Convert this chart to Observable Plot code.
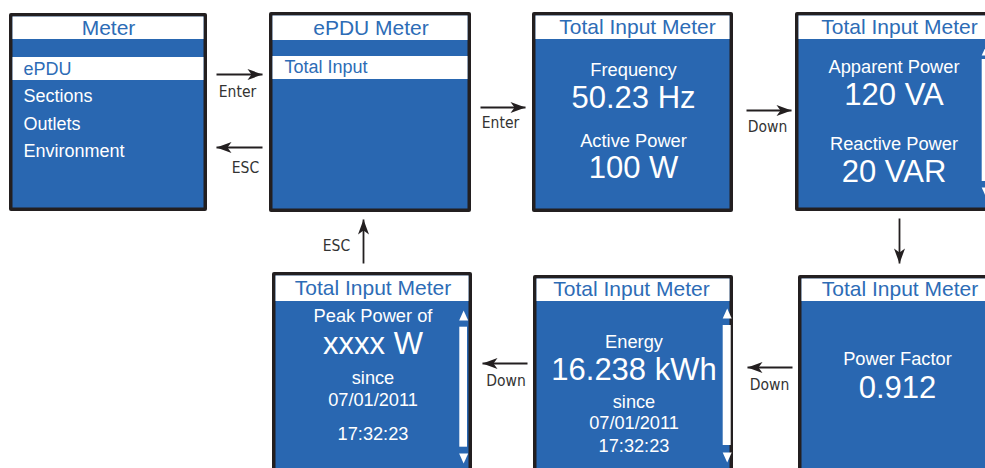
<!DOCTYPE html>
<html><head><meta charset="utf-8">
<script src="https://cdn.jsdelivr.net/npm/d3@7"></script>
<script src="https://cdn.jsdelivr.net/npm/@observablehq/plot@0.6"></script>
<style>
  html,body{margin:0;padding:0;background:#fff;}
  #chart svg{display:block;}
</style>
</head><body><div id="chart"></div>
<script>
// ---------------- content (data) ----------------
const screenTitles = ["Meter", "ePDU Meter", "Total Input Meter", "Total Input Meter", "Total Input Meter", "Total Input Meter", "Total Input Meter"];
const menuItems = ["ePDU", "Sections", "Outlets", "Environment"];
const subMenuItems = ["Total Input"];
const readingLabels = ["Frequency", "Active Power", "Apparent Power", "Reactive Power", "Power Factor", "Energy", "Peak Power of"];
const readingValues = ["50.23 Hz", "100 W", "120 VA", "20 VAR", "0.912", "16.238 kWh", "xxxx W"];
const readingScreen = [2, 2, 3, 3, 4, 5, 6];
const sinceLines = ["since", "07/01/2011", "17:32:23"];
const arrowLabels = ["Enter", "ESC", "Enter", "Down", "", "Down", "Down", "ESC"];

// ---------------- layout (pixels) ----------------
const W = 985, H = 468;
const boxes = [[9, 13, 207, 211], [269, 12, 471, 212], [532, 12, 733, 212], [795, 12, 992, 211],
               [798, 275, 1001, 490], [533, 275, 733, 490], [272, 272, 472, 490]];
const headerBottom = [39, 40, 39, 39, 301, 301, 301];
const titleX = [108, 370.5, 637, 899, 899.5, 631, 372.5];
const titleY = [27.5, 28, 26.5, 26.5, 289, 289, 288];
const border = 3.5;
const menuY = [68.5, 96, 123.5, 151];
const menuHighlight = [57, 80];
const subMenuY = [67];
const subHighlight = [56, 79];
const screenCX = [0, 0, 633, 893.5, 897, 633.5, 372.5];
const labelY = [69.5, 141, 66.5, 143.5, 359, 341.5, 316];
const valueY = [97.5, 168, 95, 171.5, 387.5, 370, 344];
const sinceY = {5: [402, 423, 446], 6: [377.5, 399.5, 433.5]};
// scrollbars: [screen, x1, x2, upY, barY1, barY2, downY]
const scrollbars = [[3, 981.7, 989.7, 50, 59, 181, 192], [5, 722.7, 730.7, 313, 325, 445, 457], [6, 459.3, 467, 315, 326.7, 446.7, 458]];
// arrows: [x1, y1, x2(tip), y2(tip), labelX, labelY]
const arrows = [[216, 74, 262, 74, 237, 92], [262, 147, 216, 147, 245, 168], [480, 107, 525, 107, 500, 123],
                [746, 110, 791, 110, 767, 126.5], [899, 218, 899, 263, 0, 0], [792, 367, 747, 367, 769, 385],
                [527, 363, 482, 363, 505.5, 380.5], [363, 263, 363, 219, 336, 246]];

// ---------------- styles ----------------
const BLUE = "#2967b1", TITLE_BLUE = "#2d6cb6", DARK = "#231f20";
const FONT = "'Liberation Sans', Arial, Helvetica, sans-serif";
const NARROW = "'Liberation Sans Narrow', 'Arial Narrow', 'DejaVu Sans Condensed', sans-serif";

// ---------------- build mark tables ----------------
const outer = boxes.map(([x1, y1, x2, y2]) => ({x1, y1, x2, y2}));
const inner = boxes.map(([x1, y1, x2, y2]) => ({x1: x1 + border, y1: y1 + border, x2: x2 - border, y2: y2 - border}));
const headers = boxes.map(([x1, y1, x2], i) => ({x1: x1 + border, y1: y1 + border, x2: x2 - border, y2: headerBottom[i]}));
const highlights = [
  {x1: boxes[0][0] + border, x2: boxes[0][2] - border, y1: menuHighlight[0], y2: menuHighlight[1]},
  {x1: boxes[1][0] + border, x2: boxes[1][2] - border, y1: subHighlight[0], y2: subHighlight[1]}
];
const titles = screenTitles.map((t, i) => ({t, x: titleX[i], y: titleY[i]}));
const menu = menuItems.map((t, i) => ({t, x: 23, y: menuY[i], sel: i === 0}))
  .concat(subMenuItems.map((t, i) => ({t, x: 284, y: subMenuY[i], sel: i === 0})));
const labels = readingLabels.map((t, i) => ({t, x: screenCX[readingScreen[i]], y: labelY[i]}));
const values = readingValues.map((t, i) => ({t, x: screenCX[readingScreen[i]], y: valueY[i]}));
const since = [];
for (const s of [5, 6]) sinceLines.forEach((t, j) => since.push({t, x: screenCX[s], y: sinceY[s][j]}));
const bars = scrollbars.map(([s, x1, x2, u, b1, b2, d]) => ({x1, x2, y1: b1, y2: b2}));
const tris = scrollbars.flatMap(([s, x1, x2, u, b1, b2, d]) => [
  {x: (x1 + x2) / 2, y: u, r: 0}, {x: (x1 + x2) / 2, y: d, r: 180}]);
const shafts = arrows.map(([x1, y1, x2, y2]) => ({x1, y1, x2, y2}));
const heads = arrows.map(([x1, y1, x2, y2]) => ({x: x2, y: y2, rot: Math.atan2(x2 - x1, -(y2 - y1)) * 180 / Math.PI}));
const arrowText = arrows.map((a, i) => ({t: arrowLabels[i], x: a[4], y: a[5]})).filter(d => d.t);

// custom symbols (tip / centre at origin, pointing up)
const arrowHead = {draw(ctx) { ctx.moveTo(0, 0); ctx.lineTo(5.5, 15); ctx.lineTo(0, 11); ctx.lineTo(-5.5, 15); ctx.closePath(); }};
const scrollTri = {draw(ctx) { ctx.moveTo(0, -5); ctx.lineTo(4.5, 5); ctx.lineTo(-4.5, 5); ctx.closePath(); }};

const chart = Plot.plot({
  width: W, height: H, margin: 0,
  x: {domain: [0, W], range: [0, W], axis: null},
  y: {domain: [0, H], range: [0, H], axis: null},
  style: {overflow: "hidden", background: "#fff"},
  marks: [
    Plot.rect(outer, {x1: "x1", x2: "x2", y1: "y1", y2: "y2", fill: DARK, rx: 2}),
    Plot.rect(inner, {x1: "x1", x2: "x2", y1: "y1", y2: "y2", fill: BLUE}),
    Plot.rect(headers, {x1: "x1", x2: "x2", y1: "y1", y2: "y2", fill: "#fff"}),
    Plot.rect(highlights, {x1: "x1", x2: "x2", y1: "y1", y2: "y2", fill: "#fff"}),
    Plot.text(titles, {x: "x", y: "y", text: "t", fill: TITLE_BLUE, fontSize: 21, fontFamily: FONT}),
    Plot.text(menu, {x: "x", y: "y", text: "t", textAnchor: "start", fill: d => d.sel ? TITLE_BLUE : "#fff", fontSize: 18, fontFamily: FONT}),
    Plot.text(labels, {x: "x", y: "y", text: "t", fill: "#fff", fontSize: 18.3, fontFamily: FONT}),
    Plot.text(values, {x: "x", y: "y", text: "t", fill: "#fff", fontSize: 31, fontFamily: FONT}),
    Plot.text(since, {x: "x", y: "y", text: "t", fill: "#fff", fontSize: 18.2, fontFamily: FONT}),
    Plot.rect(bars, {x1: "x1", x2: "x2", y1: "y1", y2: "y2", fill: "#fff"}),
    Plot.dot(tris, {x: "x", y: "y", rotate: "r", symbol: scrollTri, fill: "#fff", stroke: null}),
    Plot.link(shafts, {x1: "x1", y1: "y1", x2: "x2", y2: "y2", stroke: DARK, strokeWidth: 1.8}),
    Plot.dot(heads, {x: "x", y: "y", rotate: "rot", symbol: arrowHead, fill: DARK, stroke: null}),
    Plot.text(arrowText, {x: "x", y: "y", text: "t", fill: "#333", fontSize: 15.5, fontFamily: NARROW})
  ]
});
document.getElementById("chart").appendChild(chart);
</script>
</body></html>
